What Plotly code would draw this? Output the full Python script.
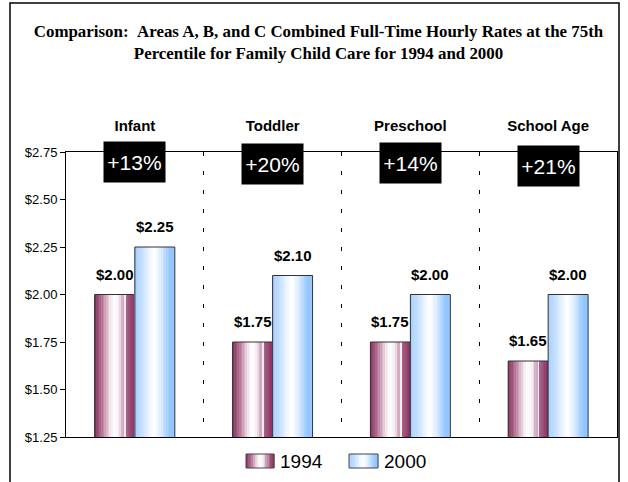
import plotly.graph_objects as go

categories = ["Infant", "Toddler", "Preschool", "School Age"]
rates_1994 = [2.00, 1.75, 1.75, 1.65]
rates_2000 = [2.25, 2.10, 2.00, 2.00]
pct_change = ["+13%", "+20%", "+14%", "+21%"]
series_names = ["1994", "2000"]
y_ticks = [1.25, 1.50, 1.75, 2.00, 2.25, 2.50, 2.75]

title = ("Comparison:\u00a0\u00a0Areas A, B, and C Combined Full-Time Hourly Rates at the 75th"
         "<br>Percentile for Family Child Care for 1994 and 2000")

grad_1994 = [(0.0, "#8B3561"), (0.1, "#9E5079"), (0.25, "#C796AF"), (0.4, "#F2E6EC"),
             (0.5, "#FFFFFF"), (0.62, "#F5EBF0"), (0.72, "#C99AB2"), (0.77, "#F8F0F4"),
             (0.8, "#A8668A"), (0.9, "#9A4A74"), (1.0, "#8B3561")]
grad_2000 = [(0.0, "#A6CFFF"), (0.2, "#C6E0FF"), (0.4, "#F4F9FF"), (0.5, "#FFFFFF"),
             (0.65, "#E0EEFF"), (0.82, "#A9D1FF"), (0.92, "#8EC3FF"), (1.0, "#9ACAFF")]


def hex2rgb(h):
    h = h.lstrip("#")
    return tuple(int(h[i:i + 2], 16) for i in (0, 2, 4))


def sample(grad, t):
    for (p0, c0), (p1, c1) in zip(grad[:-1], grad[1:]):
        if p0 <= t <= p1:
            f = 0 if p1 == p0 else (t - p0) / (p1 - p0)
            a, b = hex2rgb(c0), hex2rgb(c1)
            return "rgb(%d,%d,%d)" % tuple(round(a[i] + (b[i] - a[i]) * f) for i in range(3))
    return grad[-1][1]


BAR_W = 0.29
N = 24
fig = go.Figure()

for vals, grad, base_off in [(rates_1994, grad_1994, -BAR_W), (rates_2000, grad_2000, 0.0)]:
    sw = BAR_W / N
    for i in range(N):
        t = (i + 0.5) / N
        fig.add_trace(go.Bar(
            x=categories, y=vals, width=sw * 1.08, offset=base_off + i * sw,
            marker=dict(color=sample(grad, t), line=dict(width=0)),
            showlegend=False, hoverinfo="skip"))
    fig.add_trace(go.Bar(
        x=categories, y=vals, width=BAR_W, offset=base_off,
        marker=dict(color="rgba(0,0,0,0)", line=dict(color="#333333", width=1)),
        showlegend=False))

annotations = []
# value labels
for vals, shift in [(rates_1994, -20), (rates_2000, 20)]:
    for c, v in zip(categories, vals):
        annotations.append(dict(x=c, y=v, xref="x", yref="y", text="<b>$%.2f</b>" % v,
                                showarrow=False, xshift=shift, yanchor="bottom", yshift=10,
                                font=dict(family="Arial, Liberation Sans", size=15, color="black")))
# percentage boxes
box_y = [162, 164, 163, 166]
for c, p, by in zip(categories, pct_change, box_y):
    annotations.append(dict(x=c, y=(437 - by) / 285, xref="x", yref="paper", text=p,
                            showarrow=False, bgcolor="black", width=59, height=38,
                            xanchor="center", yanchor="middle",
                            font=dict(family="Arial, Liberation Sans", size=21, color="white")))

# custom legend
shapes = []
legend_items = [(series_names[0], grad_1994, 246, 274), (series_names[1], grad_2000, 349, 378)]
for name, grad, px0, px1 in legend_items:
    n = 12
    for i in range(n):
        a = px0 + (px1 - px0) * i / n
        b = px0 + (px1 - px0) * (i + 1) / n
        shapes.append(dict(type="rect", xref="paper", yref="paper",
                           x0=(a - 66) / 551, x1=(b - 66) / 551 + 0.001,
                           y0=(437 - 454) / 285, y1=(437 - 468) / 285,
                           fillcolor=sample(grad, (i + 0.5) / n), line=dict(width=0)))
    shapes.append(dict(type="rect", xref="paper", yref="paper",
                       x0=(px0 - 66) / 551, x1=(px1 - 66) / 551,
                       y0=(437 - 454) / 285, y1=(437 - 468) / 285,
                       line=dict(color="#444444", width=1)))
    annotations.append(dict(x=(px1 + 4 - 66) / 551, y=(437 - 461) / 285, xref="paper", yref="paper",
                            text=name, showarrow=False, xanchor="left", yanchor="middle",
                            font=dict(family="Arial, Liberation Sans", size=19, color="black")))

# outer frame
shapes.append(dict(type="rect", xref="paper", yref="paper",
                   x0=(10 - 66) / 551, x1=(619 - 66) / 551,
                   y0=(437 - 495) / 285, y1=(437 - 3) / 285,
                   line=dict(color="black", width=1.5)))

fig.update_layout(
    width=628, height=482,
    margin=dict(l=66, r=11, t=152, b=45),
    paper_bgcolor="white", plot_bgcolor="white",
    barmode="overlay",
    title=dict(text="<b>" + title + "</b>", x=318.5 / 628, xref="container", xanchor="center",
               y=(482 - 37) / 482, yanchor="top",
               font=dict(family="Liberation Serif, Times New Roman", size=16.9, color="black")),
    xaxis=dict(side="top", tickson="boundaries", showgrid=True, gridcolor="black",
               griddash="4px,15px", gridwidth=1, ticks="", showline=True, linecolor="black",
               linewidth=1, mirror=True, ticklabelstandoff=14,
               tickfont=dict(family="Arial, Liberation Sans", size=15, color="black"),
               tickprefix="<b>", ticksuffix="</b>"),
    yaxis=dict(range=[1.25, 2.75], tickvals=y_ticks, tickformat="$.2f", ticks="outside",
               ticklen=5, tickcolor="black", showline=True, linecolor="black", linewidth=1,
               mirror=True, showgrid=False, zeroline=False,
               tickfont=dict(family="Arial, Liberation Sans", size=13, color="black")),
    annotations=annotations,
    shapes=shapes,
    showlegend=False,
)

fig.write_html("out.html", config={"displayModeBar": False},
               post_script="document.body.style.margin='0';")
